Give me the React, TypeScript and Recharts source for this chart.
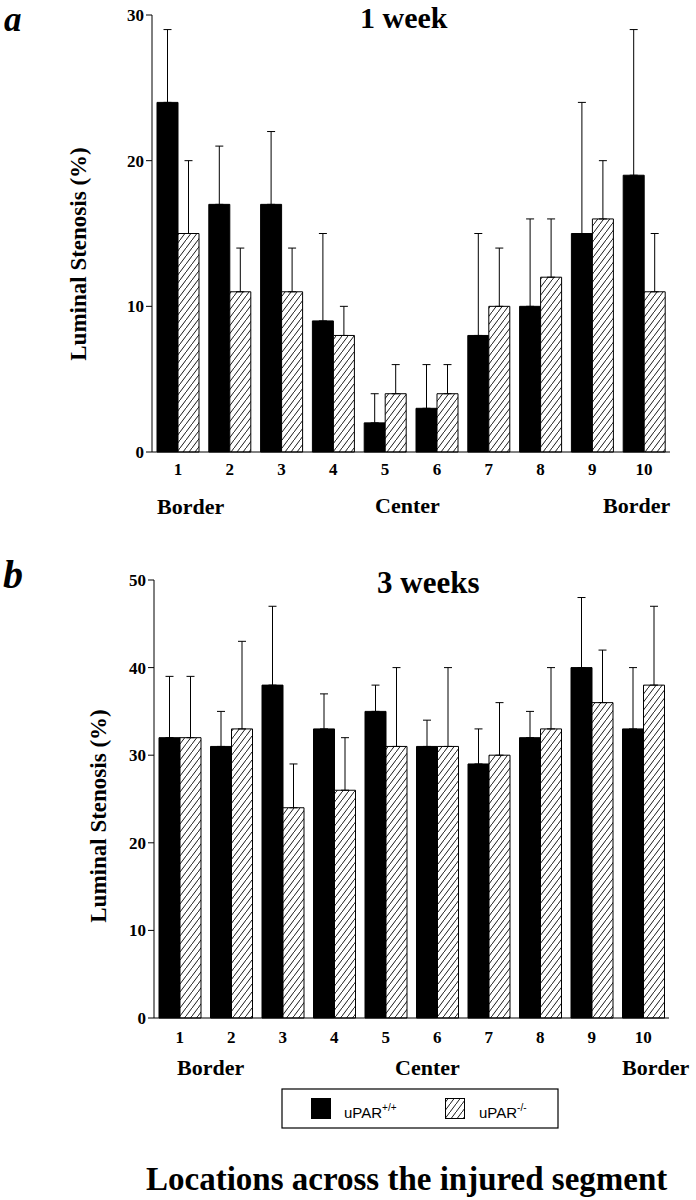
import React from 'react';
import { BarChart, Bar, XAxis, YAxis, ErrorBar } from 'recharts';

// locations along the injured segment
const locations = ['1', '2', '3', '4', '5', '6', '7', '8', '9', '10'];

// 1 week
const week1Wt = [24, 17, 17, 9, 2, 3, 8, 10, 15, 19];
const week1WtErr = [5, 4, 5, 6, 2, 3, 7, 6, 9, 10];
const week1Ko = [15, 11, 11, 8, 4, 4, 10, 12, 16, 11];
const week1KoErr = [5, 3, 3, 2, 2, 2, 4, 4, 4, 4];
const week1Ticks = [0, 10, 20, 30];

// 3 weeks
const week3Wt = [32, 31, 38, 33, 35, 31, 29, 32, 40, 33];
const week3WtErr = [7, 4, 9, 4, 3, 3, 4, 3, 8, 7];
const week3Ko = [32, 33, 24, 26, 31, 31, 30, 33, 36, 38];
const week3KoErr = [7, 10, 5, 6, 9, 9, 6, 7, 6, 9];
const week3Ticks = [0, 10, 20, 30, 40, 50];

const SERIF = '"Liberation Serif", "Times New Roman", serif';
const SANS = '"Liberation Sans", Arial, sans-serif';

function buildRows(wt: number[], wtErr: number[], ko: number[], koErr: number[]) {
  return locations.map((loc, i) => ({
    loc,
    wt: wt[i],
    wtErr: [0, wtErr[i]],
    ko: ko[i],
    koErr: [0, koErr[i]],
  }));
}

const tickStyle = { fontFamily: SERIF, fontSize: 17, fontWeight: 700, fill: '#000' };

function Hatch({ id }: { id: string }) {
  return (
    <pattern id={id} patternUnits="userSpaceOnUse" width={6} height={8}>
      <rect width={6} height={8} fill="#fff" />
      <path d="M0,8 L6,0 M-1,1 L1,-1 M5,9 L7,7" stroke="#000" strokeWidth={0.9} />
    </pattern>
  );
}

interface PanelProps {
  rows: ReturnType<typeof buildRows>;
  ticks: number[];
  hatchId: string;
  yAxisWidth: number;
  margin: { top: number; right: number; left: number; bottom: number };
  tickMargin: number;
}

function Panel({ rows, ticks, hatchId, yAxisWidth, margin, tickMargin }: PanelProps) {
  return (
    <BarChart width={696} height={500} data={rows} margin={margin} barGap={0} barSize={21}>
      <defs>
        <Hatch id={hatchId} />
      </defs>
      <XAxis
        dataKey="loc"
        tick={tickStyle}
        tickLine={false}
        tickMargin={tickMargin}
        axisLine={{ stroke: '#000', strokeWidth: 1 }}
        height={30}
      />
      <YAxis
        domain={[ticks[0], ticks[ticks.length - 1]]}
        ticks={ticks}
        width={yAxisWidth}
        tick={tickStyle}
        tickLine={{ stroke: '#000' }}
        axisLine={{ stroke: '#000', strokeWidth: 1 }}
        tickMargin={2}
      />
      <Bar dataKey="wt" fill="#000" stroke="#000" strokeWidth={1} isAnimationActive={false}>
        <ErrorBar dataKey="wtErr" width={4} stroke="#000" strokeWidth={1} direction="y" />
      </Bar>
      <Bar dataKey="ko" fill={`url(#${hatchId})`} stroke="#000" strokeWidth={1} isAnimationActive={false}>
        <ErrorBar dataKey="koErr" width={4} stroke="#000" strokeWidth={1} direction="y" />
      </Bar>
    </BarChart>
  );
}

export default function App() {
  const rows1 = buildRows(week1Wt, week1WtErr, week1Ko, week1KoErr);
  const rows3 = buildRows(week3Wt, week3WtErr, week3Ko, week3KoErr);
  const bold = { fontFamily: SERIF, fontWeight: 700, fill: '#000' };

  return (
    <div style={{ position: 'absolute', left: 0, top: 0, width: 696, height: 1200, background: '#fff' }}>
      <div style={{ position: 'absolute', left: 0, top: 0 }}>
        <Panel
          rows={rows1}
          ticks={week1Ticks}
          hatchId="hatchA"
          yAxisWidth={152}
          margin={{ top: 15, right: 26, left: 0, bottom: 18 }}
          tickMargin={5}
        />
      </div>
      <div style={{ position: 'absolute', left: 0, top: 560 }}>
        <Panel
          rows={rows3}
          ticks={week3Ticks}
          hatchId="hatchB"
          yAxisWidth={154}
          margin={{ top: 20, right: 27, left: 0, bottom: 12 }}
          tickMargin={7}
        />
      </div>

      <svg width={696} height={1200} style={{ position: 'absolute', left: 0, top: 0, pointerEvents: 'none' }}>
        <defs>
          <Hatch id="hatchL" />
        </defs>
        {/* panel a */}
        <text x={4} y={31} style={{ ...bold, fontSize: 35, fontStyle: 'italic' }}>a</text>
        <text x={360} y={28} style={{ ...bold, fontSize: 30 }}>1 week</text>
        <text x={86} y={254} textAnchor="middle" transform="rotate(-90 86 254)" style={{ ...bold, fontSize: 23 }}>
          Luminal Stenosis (%)
        </text>
        <text x={157} y={514} style={{ ...bold, fontSize: 22 }}>Border</text>
        <text x={375} y={513} style={{ ...bold, fontSize: 22 }}>Center</text>
        <text x={603} y={513} style={{ ...bold, fontSize: 22 }}>Border</text>

        {/* panel b */}
        <text x={3} y={588} style={{ ...bold, fontSize: 40, fontStyle: 'italic' }}>b</text>
        <text x={377} y={593} style={{ ...bold, fontSize: 31 }}>3 weeks</text>
        <text x={106} y={816} textAnchor="middle" transform="rotate(-90 106 816)" style={{ ...bold, fontSize: 23 }}>
          Luminal Stenosis (%)
        </text>
        <text x={177} y={1075} style={{ ...bold, fontSize: 22 }}>Border</text>
        <text x={395} y={1075} style={{ ...bold, fontSize: 22 }}>Center</text>
        <text x={622} y={1075} style={{ ...bold, fontSize: 22 }}>Border</text>

        {/* legend */}
        <rect x={282} y={1089} width={276} height={39} fill="none" stroke="#000" strokeWidth={1.2} />
        <rect x={311} y={1098} width={20} height={21} fill="#000" />
        <text x={344} y={1118} style={{ fontFamily: SANS, fontSize: 15, fill: '#000' }}>
          uPAR<tspan dy={-7} fontSize={10}>+/+</tspan>
        </text>
        <rect x={445.5} y={1098.5} width={19} height={20} fill="url(#hatchL)" stroke="#000" strokeWidth={1} />
        <text x={479} y={1118} style={{ fontFamily: SANS, fontSize: 15, fill: '#000' }}>
          uPAR<tspan dy={-7} fontSize={10}>-/-</tspan>
        </text>

        <text x={146} y={1190} style={{ ...bold, fontSize: 33 }}>Locations across the injured segment</text>
      </svg>
    </div>
  );
}
